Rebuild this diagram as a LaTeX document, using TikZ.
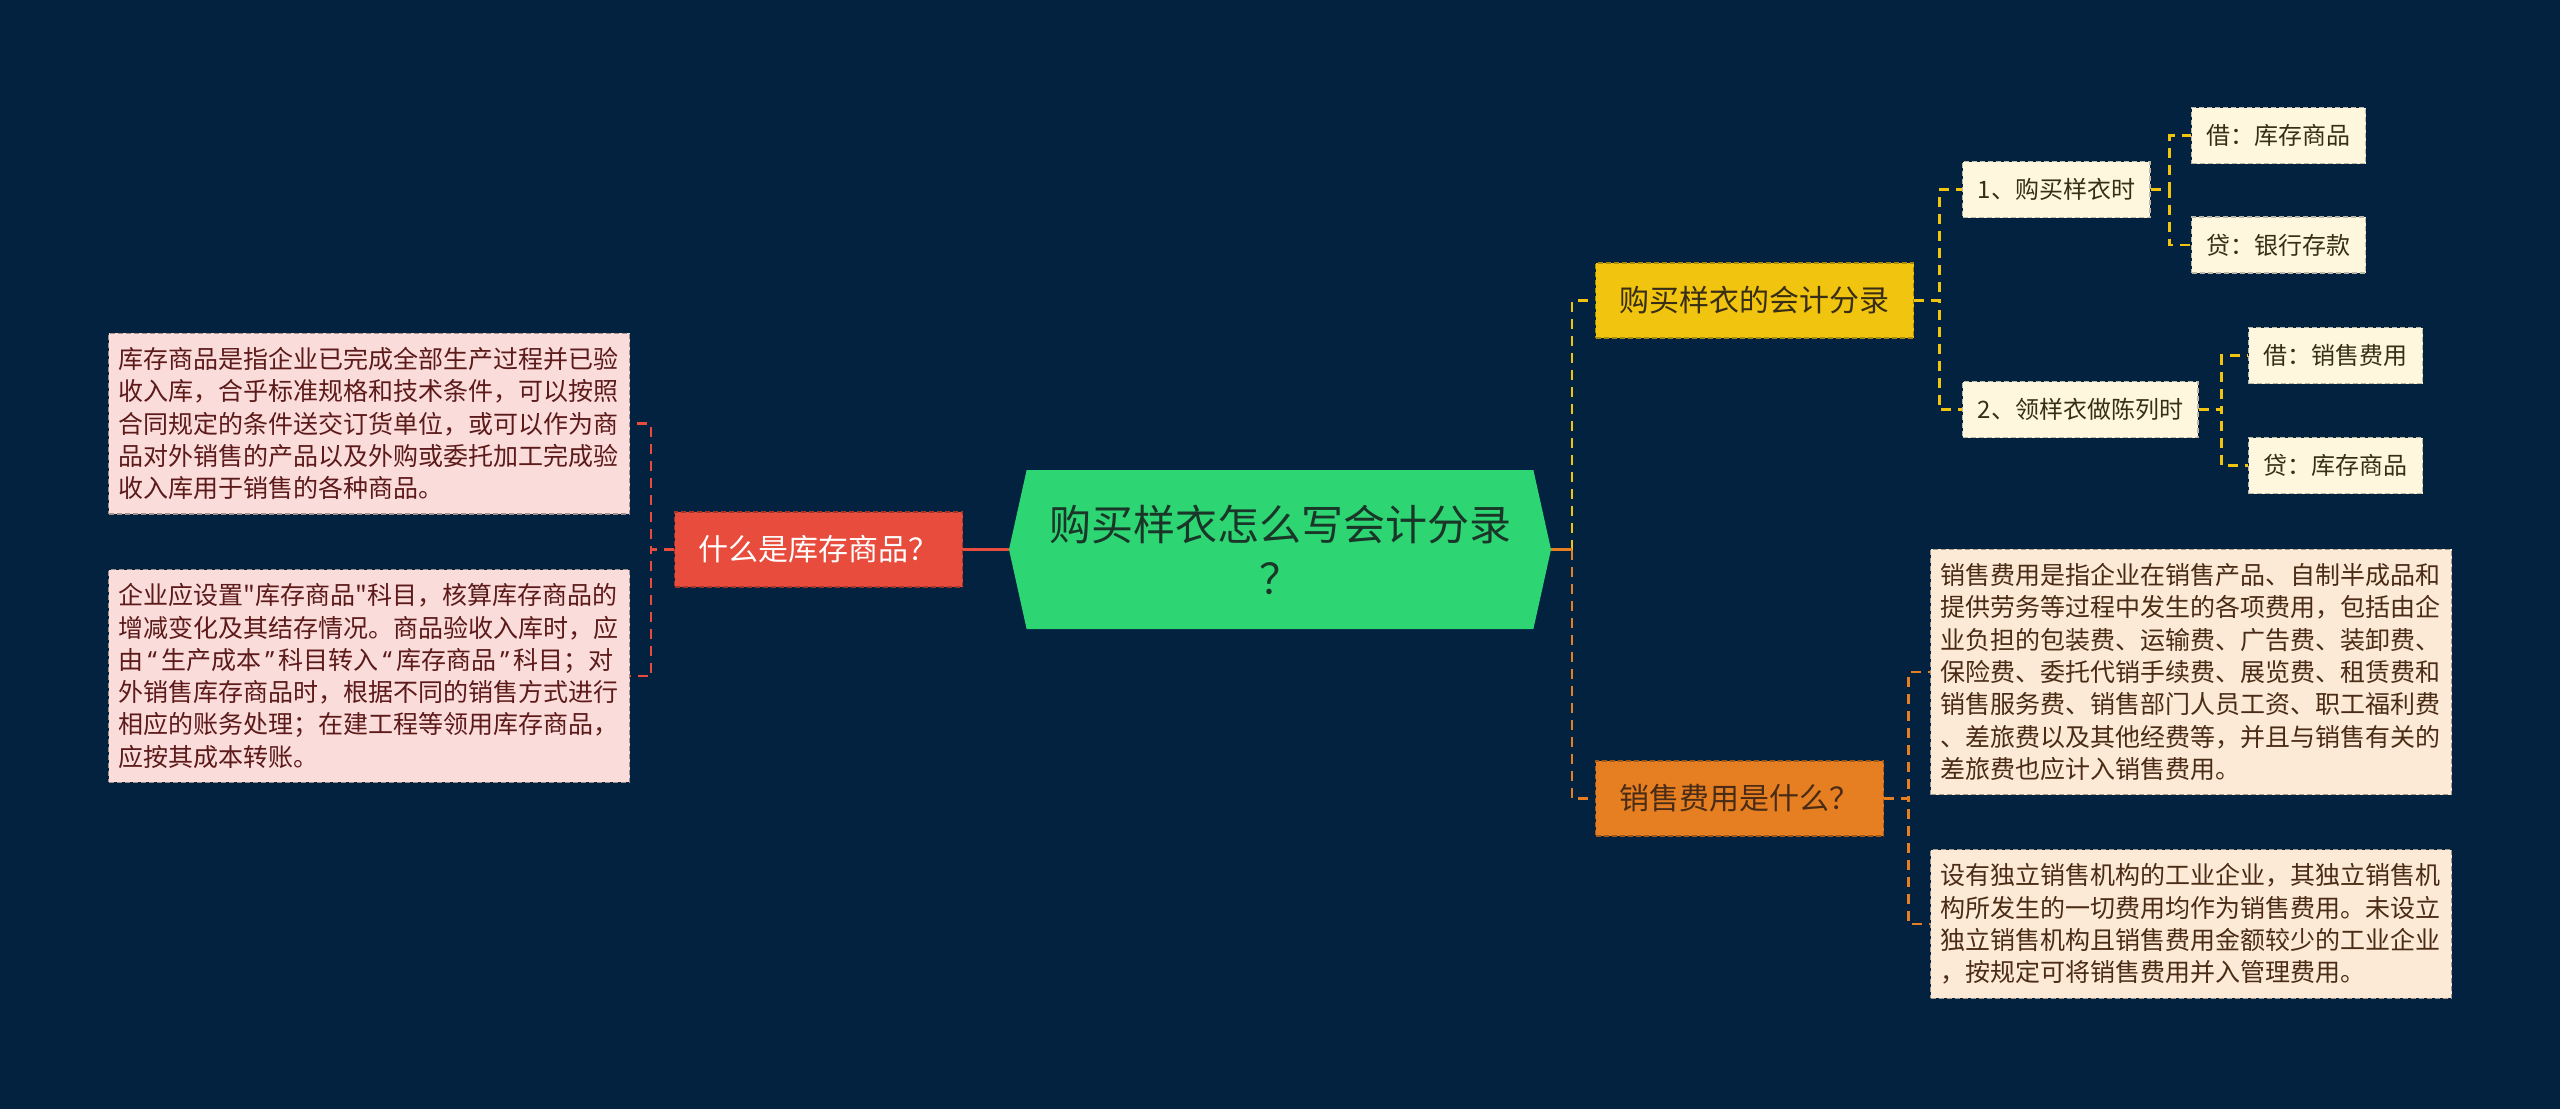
\documentclass[tikz,border=0pt]{standalone}
\usepackage{fontspec}
\setmainfont{Noto Sans CJK SC}[Ligatures=TeXOff]
\newfontfamily\latinfont{Noto Sans}
\newcommand\oq{\makebox[0.7em]{\latinfont “}}
\newcommand\cq{\makebox[0.7em]{\latinfont ”}}
\usetikzlibrary{shapes.symbols}
\definecolor{bg}{RGB}{2,34,64}
\definecolor{mint}{RGB}{46,213,115}
\definecolor{mintink}{RGB}{26,54,40}
\definecolor{rose}{RGB}{232,76,61}
\definecolor{gold}{RGB}{241,196,15}
\definecolor{amber}{RGB}{230,126,34}
\definecolor{pinkleaf}{RGB}{250,220,218}
\definecolor{creamleaf}{RGB}{254,247,222}
\definecolor{peachleaf}{RGB}{253,234,214}
\definecolor{pinkink}{RGB}{92,26,26}
\definecolor{brownink}{RGB}{74,44,22}
\definecolor{darkink}{RGB}{56,46,22}
\tikzset{
  box/.style={draw, dash pattern=on 5pt off 3pt, line width=1.4pt, anchor=west},
  rootbox/.style={shape=signal, signal to=east and west, signal pointer angle=155,
    fill=mint, text=mintink, minimum width=542pt, minimum height=159pt,
    align=center, font=\fontsize{42}{54}\selectfont},
  topic/.style={box, minimum height=75pt, inner xsep=24pt, font=\fontsize{30}{36}\selectfont},
  sub/.style={box, fill=creamleaf, draw=creamleaf!75!black, text=darkink,
    minimum height=56pt, inner xsep=15pt, font=\fontsize{24}{28}\selectfont},
  leaf/.style={box, text width=501pt, align=left, inner xsep=10pt, inner ysep=14pt,
    font=\fontsize{25}{32.3}\selectfont},
  link/.style={dash pattern=on 10pt off 7pt, line width=2.5pt},
  stem/.style={line width=2.5pt},
}

\begin{document}
\begin{tikzpicture}[x=1pt,y=-1pt]
  \useasboundingbox (0,0) rectangle (2560,1109);
  \fill[bg] (0,0) rectangle (2560,1109);
  % root
  \node[rootbox] (root) at (1280,549.5) {购买样衣怎么写会计分录\\？};
  % left branch
  \node[topic, fill=rose, draw=rose!70!black, text=white] (stock) at (674,549.5) {什么是库存商品？};
  \node[leaf, fill=pinkleaf, draw=pinkleaf!65!black, text=pinkink] (stockA) at (108,423.5) {库存商品是指企业已完成全部生产过程并已验\\收入库，合乎标准规格和技术条件，可以按照\\合同规定的条件送交订货单位，或可以作为商\\品对外销售的产品以及外购或委托加工完成验\\收入库用于销售的各种商品。};
  \node[leaf, fill=pinkleaf, draw=pinkleaf!65!black, text=pinkink] (stockB) at (108,676) {企业应设置"库存商品"科目，核算库存商品的\\增减变化及其结存情况。商品验收入库时，应\\由\oq 生产成本\cq 科目转入\oq 库存商品\cq 科目；对\\外销售库存商品时，根据不同的销售方式进行\\相应的账务处理；在建工程等领用库存商品，\\应按其成本转账。};
  % right branch, entries
  \node[topic, fill=gold, draw=gold!70!black, text=darkink] (entry) at (1595,300.5) {购买样衣的会计分录};
  \node[sub] (buy) at (1962,189.5) {1、购买样衣时};
  \node[sub] (show) at (1962,409.5) {2、领样衣做陈列时};
  \node[sub] (buyDr) at (2191,135.5) {借：库存商品};
  \node[sub] (buyCr) at (2191,245) {贷：银行存款};
  \node[sub] (showDr) at (2248,355.5) {借：销售费用};
  \node[sub] (showCr) at (2248,465.5) {贷：库存商品};
  % right branch, selling cost
  \node[topic, fill=amber, draw=amber!70!black, text=brownink] (sell) at (1595,798.5) {销售费用是什么？};
  \node[leaf, fill=peachleaf, draw=peachleaf!65!black, text=brownink] (sellA) at (1930,672) {销售费用是指企业在销售产品、自制半成品和\\提供劳务等过程中发生的各项费用，包括由企\\业负担的包装费、运输费、广告费、装卸费、\\保险费、委托代销手续费、展览费、租赁费和\\销售服务费、销售部门人员工资、职工福利费\\、差旅费以及其他经费等，并且与销售有关的\\差旅费也应计入销售费用。};
  \node[leaf, fill=peachleaf, draw=peachleaf!65!black, text=brownink] (sellB) at (1930,924) {设有独立销售机构的工业企业，其独立销售机\\构所发生的一切费用均作为销售费用。未设立\\独立销售机构且销售费用金额较少的工业企业\\，按规定可将销售费用并入管理费用。};
  % links
  \coordinate (hubR) at ([xshift=21pt]root.east);
  \draw[stem, rose] (root.west) -- (stock.east);
  \draw[link, rose] (stock.west) -- ++(-23,0) |- (stockA.east);
  \draw[link, rose] (stock.west) -- ++(-23,0) |- (stockB.east);
  \draw[link, gold] (hubR) |- (entry.west);
  \draw[link, gold] (entry.east) -- ++(25,0) |- (buy.west);
  \draw[link, gold] (entry.east) -- ++(25,0) |- (show.west);
  \draw[link, gold] (buy.east) -- ++(19,0) |- (buyDr.west);
  \draw[link, gold] (buy.east) -- ++(19,0) |- (buyCr.west);
  \draw[link, gold] (show.east) -- ++(23,0) |- (showDr.west);
  \draw[link, gold] (show.east) -- ++(23,0) |- (showCr.west);
  \draw[link, amber] (hubR) |- (sell.west);
  \draw[stem, amber] (root.east) -- (hubR);
  \draw[link, amber] (sell.east) -- ++(24,0) |- (sellA.west);
  \draw[link, amber] (sell.east) -- ++(24,0) |- (sellB.west);
\end{tikzpicture}
\end{document}
